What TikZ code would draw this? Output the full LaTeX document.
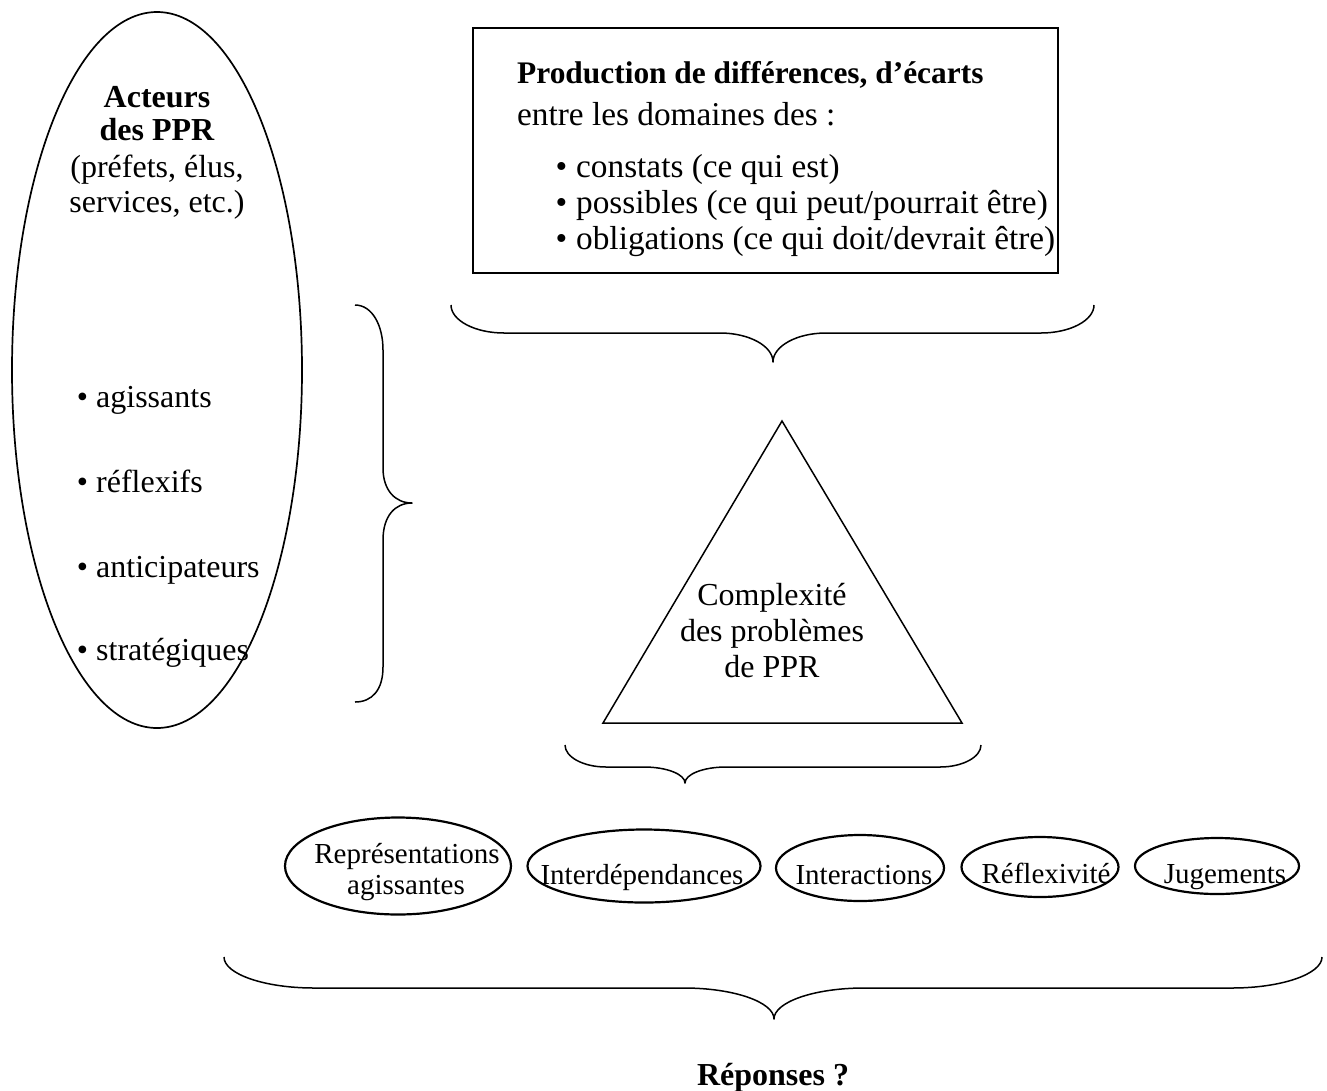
\documentclass[tikz,border=0pt]{standalone}
\usepackage{fontspec}
\setmainfont{Liberation Serif}
\usetikzlibrary{shapes.geometric}

% horizontal curly brace: x1, x2, end y, bar y, tip x, tip y, curl radius
\newcommand\hcurly[7]{%
  \draw[bracepath] (#1,#3) .. controls (#1,#3+0.55*#4-0.55*#3) and (#1+0.45*#7,#4) .. (#1+#7,#4)
    -- (#5-#7,#4) .. controls (#5-0.45*#7,#4) and (#5,#4+0.45*#6-0.45*#4) .. (#5,#6)
    .. controls (#5,#4+0.45*#6-0.45*#4) and (#5+0.45*#7,#4) .. (#5+#7,#4)
    -- (#2-#7,#4) .. controls (#2-0.45*#7,#4) and (#2,#3+0.55*#4-0.55*#3) .. (#2,#3);}

\begin{document}
\begin{tikzpicture}[x=1pt,y=-1pt,
  txt/.style={inner sep=0pt, font=\fontsize{32}{35}\selectfont},
  btxt/.style={inner sep=0pt, font=\fontsize{32}{35}\selectfont\bfseries},
  boxtxt/.style={inner sep=0pt, font=\fontsize{33.3}{36}\selectfont},
  boxbold/.style={inner sep=0pt, font=\fontsize{31.4}{34}\selectfont\bfseries},
  lbl/.style={inner sep=0pt, font=\fontsize{29}{32}\selectfont},
  oval/.style={ellipse, draw, line width=2.2pt, inner sep=0pt},
  bracepath/.style={line width=1.5pt, line join=round},
]
\useasboundingbox (0,0) rectangle (1327,1090);

% ---- actors ellipse ----
\node[oval, line width=1.7pt, minimum width=290, minimum height=716] (actors) at (157,370) {};
\node[btxt, anchor=base] (act1) at (157,107) {Acteurs};
\node[btxt, anchor=base] (act2) at (157,140) {des PPR};
\node[txt, anchor=base] (act3) at (157,177) {(préfets, élus,};
\node[txt, anchor=base] (act4) at (157,212) {services, etc.)};

\node[txt, anchor=base west] (q1) at (96,407) {\llap{\textbullet\hspace{8pt}}agissants};
\node[txt, anchor=base west] (q2) at (96,492) {\llap{\textbullet\hspace{8pt}}réflexifs};
\node[txt, anchor=base west] (q3) at (96,577) {\llap{\textbullet\hspace{8pt}}anticipateurs};
\node[txt, anchor=base west] (q4) at (96,660) {\llap{\textbullet\hspace{8pt}}stratégiques};

% ---- vertical brace ----
\draw[bracepath] (355,305) .. controls (372,305) and (383,325) .. (383,350) -- (383,468)
  .. controls (383,490) and (395,503) .. (412,503) .. controls (395,503) and (383,516) .. (383,540)
  -- (383,667) .. controls (383,690) and (372,702) .. (355,702);

% ---- box ----
\node[draw, line width=2.2pt, minimum width=585, minimum height=245, inner sep=0pt] (box) at (765.5,150.5) {};
\node[boxbold, anchor=base west] (b1) at (517,83) {Production de différences, d’écarts};
\node[boxtxt, anchor=base west] (b2) at (517,125) {entre les domaines des :};
\node[boxtxt, anchor=base west] (b3) at (576,177) {\llap{\textbullet\hspace{9pt}}constats (ce qui est)};
\node[boxtxt, anchor=base west] (b4) at (576,213) {\llap{\textbullet\hspace{9pt}}possibles (ce qui peut/pourrait être)};
\node[boxtxt, anchor=base west] (b5) at (576,249) {\llap{\textbullet\hspace{9pt}}obligations (ce qui doit/devrait être)};

\hcurly{451}{1094}{305}{333}{773}{362}{53}

% ---- triangle ----
\coordinate (tA) at (782,421);
\coordinate (tB) at (962,723);
\coordinate (tC) at (603,723);
\draw[line width=1.5pt, line join=miter] (tA) -- (tB) -- (tC) -- cycle;
\node[txt, anchor=base] (c1) at (772,605) {Complexité};
\node[txt, anchor=base] (c2) at (772,641) {des problèmes};
\node[txt, anchor=base] (c3) at (772,677) {de PPR};

\hcurly{565}{981}{745}{767}{685}{783}{41}

% ---- factors ----
\node[oval, minimum width=226, minimum height=97] (e1) at (398,866) {};
\node[oval, minimum width=233, minimum height=73] (e2) at (644,866) {};
\node[oval, minimum width=168, minimum height=66] (e3) at (860,868) {};
\node[oval, minimum width=157, minimum height=60] (e4) at (1040,867) {};
\node[oval, minimum width=164, minimum height=56] (e5) at (1217,866) {};

\node[lbl, anchor=base] (l1a) at (407,863) {Représentations};
\node[lbl, anchor=base] (l1b) at (406,894) {agissantes};
\node[lbl, anchor=base] (l2) at (642,884) {Interdépendances};
\node[lbl, anchor=base] (l3) at (864,884) {Interactions};
\node[lbl, anchor=base] (l4) at (1046,883) {Réflexivité};
\node[lbl, anchor=base] (l5) at (1225,883) {Jugements};

\hcurly{224}{1322}{957}{988}{774}{1019}{90}

\node[btxt, anchor=base] (ans) at (773,1085) {Réponses ?};
\end{tikzpicture}
\end{document}
